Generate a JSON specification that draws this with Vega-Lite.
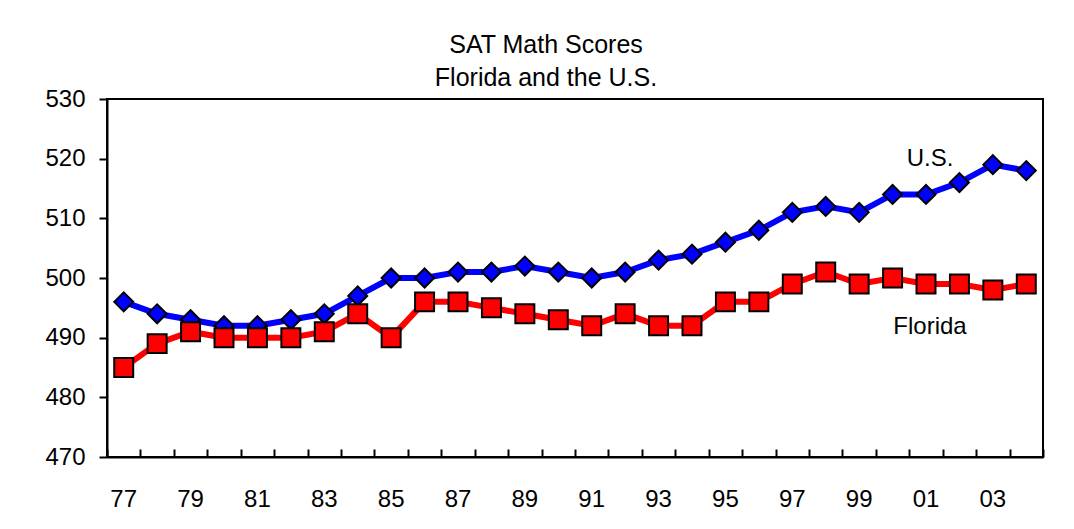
{
  "$schema": "https://vega.github.io/schema/vega-lite/v6.json",
  "autosize": "none",
  "padding": {"left": 107, "top": 99, "right": 31, "bottom": 72},
  "width": 936,
  "height": 358,
  "background": "white",
  "config": {
    "font": "Liberation Sans",
    "view": {"stroke": "black", "strokeWidth": 2},
    "axis": {"grid": false, "domainColor": "black", "domainWidth": 2, "tickColor": "black", "tickWidth": 2, "labelColor": "black", "labelFont": "Liberation Sans", "labelFontSize": 24}
  },
  "title": {
    "text": ["SAT Math Scores", "Florida and the U.S."],
    "fontSize": 25,
    "fontWeight": "normal",
    "font": "Liberation Sans",
    "color": "black",
    "lineHeight": 33,
    "anchor": "middle",
    "dx": -29,
    "offset": -4
  },
  "datasets": {
    "scores": [
      {"yr": 1977, "series": "U.S.", "score": 496}, {"yr": 1978, "series": "U.S.", "score": 494}, {"yr": 1979, "series": "U.S.", "score": 493}, {"yr": 1980, "series": "U.S.", "score": 492}, {"yr": 1981, "series": "U.S.", "score": 492}, {"yr": 1982, "series": "U.S.", "score": 493}, {"yr": 1983, "series": "U.S.", "score": 494}, {"yr": 1984, "series": "U.S.", "score": 497}, {"yr": 1985, "series": "U.S.", "score": 500}, {"yr": 1986, "series": "U.S.", "score": 500}, {"yr": 1987, "series": "U.S.", "score": 501}, {"yr": 1988, "series": "U.S.", "score": 501}, {"yr": 1989, "series": "U.S.", "score": 502}, {"yr": 1990, "series": "U.S.", "score": 501}, {"yr": 1991, "series": "U.S.", "score": 500}, {"yr": 1992, "series": "U.S.", "score": 501}, {"yr": 1993, "series": "U.S.", "score": 503}, {"yr": 1994, "series": "U.S.", "score": 504}, {"yr": 1995, "series": "U.S.", "score": 506}, {"yr": 1996, "series": "U.S.", "score": 508}, {"yr": 1997, "series": "U.S.", "score": 511}, {"yr": 1998, "series": "U.S.", "score": 512}, {"yr": 1999, "series": "U.S.", "score": 511}, {"yr": 2000, "series": "U.S.", "score": 514}, {"yr": 2001, "series": "U.S.", "score": 514}, {"yr": 2002, "series": "U.S.", "score": 516}, {"yr": 2003, "series": "U.S.", "score": 519}, {"yr": 2004, "series": "U.S.", "score": 518},
      {"yr": 1977, "series": "Florida", "score": 485}, {"yr": 1978, "series": "Florida", "score": 489}, {"yr": 1979, "series": "Florida", "score": 491}, {"yr": 1980, "series": "Florida", "score": 490}, {"yr": 1981, "series": "Florida", "score": 490}, {"yr": 1982, "series": "Florida", "score": 490}, {"yr": 1983, "series": "Florida", "score": 491}, {"yr": 1984, "series": "Florida", "score": 494}, {"yr": 1985, "series": "Florida", "score": 490}, {"yr": 1986, "series": "Florida", "score": 496}, {"yr": 1987, "series": "Florida", "score": 496}, {"yr": 1988, "series": "Florida", "score": 495}, {"yr": 1989, "series": "Florida", "score": 494}, {"yr": 1990, "series": "Florida", "score": 493}, {"yr": 1991, "series": "Florida", "score": 492}, {"yr": 1992, "series": "Florida", "score": 494}, {"yr": 1993, "series": "Florida", "score": 492}, {"yr": 1994, "series": "Florida", "score": 492}, {"yr": 1995, "series": "Florida", "score": 496}, {"yr": 1996, "series": "Florida", "score": 496}, {"yr": 1997, "series": "Florida", "score": 499}, {"yr": 1998, "series": "Florida", "score": 501}, {"yr": 1999, "series": "Florida", "score": 499}, {"yr": 2000, "series": "Florida", "score": 500}, {"yr": 2001, "series": "Florida", "score": 499}, {"yr": 2002, "series": "Florida", "score": 499}, {"yr": 2003, "series": "Florida", "score": 498}, {"yr": 2004, "series": "Florida", "score": 499}
    ],
    "labels": [
      {"yr": 2001, "score": 520, "text": "U.S."},
      {"yr": 2001, "score": 491.8, "text": "Florida"}
    ]
  },
  "resolve": {"axis": {"x": "independent", "y": "independent"}},
  "layer": [
    {
      "data": {"name": "scores"},
      "mark": {"type": "line", "strokeWidth": 6},
      "encoding": {
        "x": {
          "field": "yr", "type": "ordinal",
          "scale": {"type": "band", "paddingInner": 0, "paddingOuter": 0, "domain": [1977,1978,1979,1980,1981,1982,1983,1984,1985,1986,1987,1988,1989,1990,1991,1992,1993,1994,1995,1996,1997,1998,1999,2000,2001,2002,2003,2004]},
          "axis": {"title": null, "orient": "bottom", "labelAngle": 0, "ticks": false, "labelPadding": 30, "labelExpr": "datum.value % 2 == 1 ? slice(toString(datum.value), 2) : ''"}
        },
        "y": {
          "field": "score", "type": "quantitative",
          "scale": {"domain": [470, 530], "nice": false, "zero": false},
          "axis": {"title": null, "orient": "left", "values": [470, 480, 490, 500, 510, 520, 530], "tickSize": 8, "labelPadding": 14}
        },
        "color": {"field": "series", "type": "nominal", "scale": {"domain": ["U.S.", "Florida"], "range": ["#0000FF", "#FF0000"]}, "legend": null}
      }
    },
    {
      "data": {"name": "scores"},
      "mark": {"type": "point", "filled": true, "stroke": "black", "strokeWidth": 2, "opacity": 1, "size": 360},
      "encoding": {
        "x": {
          "field": "yr", "type": "ordinal",
          "axis": {"title": null, "orient": "bottom", "domain": false, "labels": false, "tickBand": "extent", "tickSize": 8, "offset": -8}
        },
        "y": {"field": "score", "type": "quantitative", "axis": null},
        "color": {"field": "series", "type": "nominal", "scale": {"domain": ["U.S.", "Florida"], "range": ["#0000FF", "#FF0000"]}, "legend": null},
        "shape": {"field": "series", "type": "nominal", "scale": {"domain": ["U.S.", "Florida"], "range": ["diamond", "square"]}, "legend": null}
      }
    },
    {
      "data": {"name": "labels"},
      "mark": {"type": "text", "fontSize": 24, "font": "Liberation Sans", "color": "black", "baseline": "middle", "align": "center", "dx": 4},
      "encoding": {
        "x": {"field": "yr", "type": "ordinal", "axis": null},
        "y": {"field": "score", "type": "quantitative", "axis": null},
        "text": {"field": "text"}
      }
    }
  ]
}
